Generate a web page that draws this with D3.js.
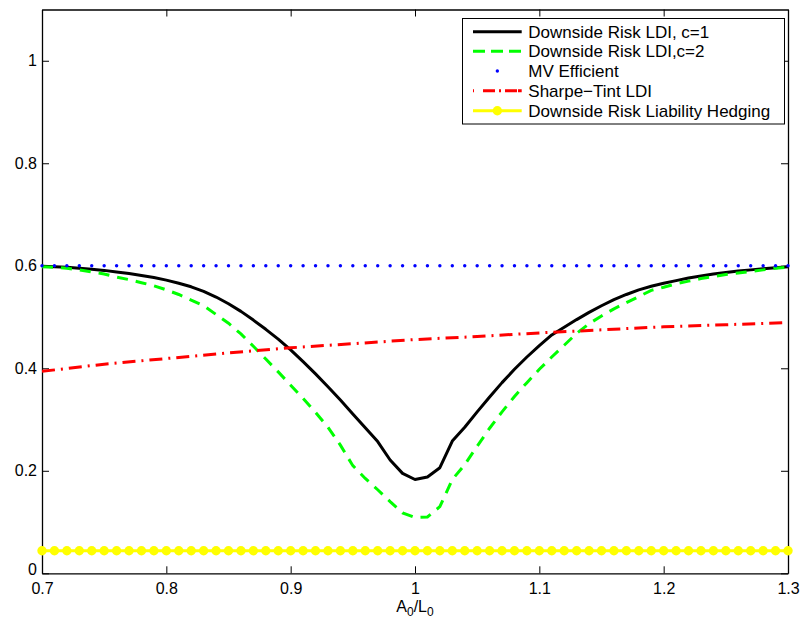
<!DOCTYPE html>
<html><head><meta charset="utf-8">
<script src="https://cdn.jsdelivr.net/npm/d3@7"></script>
<style>body{margin:0;background:#fff} svg{display:block} text{font-family:"Liberation Sans",Arial,Helvetica,sans-serif}</style>
</head><body><svg id="c" width="801" height="621"></svg>
<script>
const xValues = [0.70,0.71,0.72,0.73,0.74,0.75,0.76,0.77,0.78,0.79,0.80,0.81,0.82,0.83,0.84,0.85,0.86,0.87,0.88,0.89,0.90,0.91,0.92,0.93,0.94,0.95,0.96,0.97,0.98,0.99,1.00,1.01,1.02,1.03,1.04,1.05,1.06,1.07,1.08,1.09,1.10,1.11,1.12,1.13,1.14,1.15,1.16,1.17,1.18,1.19,1.20,1.21,1.22,1.23,1.24,1.25,1.26,1.27,1.28,1.29,1.30];
const downsideC1 = [0.599,0.598,0.597,0.595,0.593,0.591,0.588,0.585,0.581,0.577,0.572,0.566,0.559,0.550,0.539,0.526,0.511,0.494,0.476,0.457,0.436,0.413,0.389,0.364,0.338,0.311,0.284,0.257,0.221,0.195,0.183,0.188,0.206,0.258,0.285,0.315,0.344,0.372,0.398,0.422,0.444,0.465,0.480,0.495,0.509,0.522,0.534,0.544,0.553,0.560,0.566,0.571,0.576,0.580,0.584,0.587,0.590,0.592,0.594,0.596,0.598];
const downsideC2 = [0.598,0.597,0.595,0.592,0.588,0.584,0.578,0.573,0.567,0.561,0.553,0.544,0.533,0.522,0.505,0.488,0.467,0.443,0.418,0.393,0.367,0.341,0.314,0.285,0.250,0.210,0.185,0.163,0.140,0.118,0.109,0.110,0.130,0.183,0.212,0.248,0.283,0.315,0.345,0.372,0.398,0.422,0.445,0.468,0.487,0.502,0.516,0.528,0.540,0.552,0.558,0.565,0.570,0.575,0.579,0.583,0.586,0.589,0.592,0.595,0.597];
const mvEfficient = [0.6,0.6,0.6,0.6,0.6,0.6,0.6,0.6,0.6,0.6,0.6,0.6,0.6,0.6,0.6,0.6,0.6,0.6,0.6,0.6,0.6,0.6,0.6,0.6,0.6,0.6,0.6,0.6,0.6,0.6,0.6,0.6,0.6,0.6,0.6,0.6,0.6,0.6,0.6,0.6,0.6,0.6,0.6,0.6,0.6,0.6,0.6,0.6,0.6,0.6,0.6,0.6,0.6,0.6,0.6,0.6,0.6,0.6,0.6,0.6,0.6];
const sharpeX = [0.70,0.75,0.80,0.85,0.90,0.95,1.00,1.05,1.10,1.15,1.20,1.25,1.30];
const sharpeTint = [0.394,0.408,0.419,0.430,0.440,0.448,0.456,0.462,0.469,0.475,0.481,0.485,0.489];
const liabilityHedging = [0.044,0.044,0.044,0.044,0.044,0.044,0.044,0.044,0.044,0.044,0.044,0.044,0.044,0.044,0.044,0.044,0.044,0.044,0.044,0.044,0.044,0.044,0.044,0.044,0.044,0.044,0.044,0.044,0.044,0.044,0.044,0.044,0.044,0.044,0.044,0.044,0.044,0.044,0.044,0.044,0.044,0.044,0.044,0.044,0.044,0.044,0.044,0.044,0.044,0.044,0.044,0.044,0.044,0.044,0.044,0.044,0.044,0.044,0.044,0.044,0.044];
const xTicks = [0.7,0.8,0.9,1.0,1.1,1.2,1.3];
const xTickLabels = ["0.7","0.8","0.9","1","1.1","1.2","1.3"];
const yTicks = [0,0.2,0.4,0.6,0.8,1.0];
const yTickLabels = ["0","0.2","0.4","0.6","0.8","1"];
const seriesNames = ["Downside Risk LDI, c=1","Downside Risk LDI,c=2","MV Efficient","Sharpe\u2212Tint LDI","Downside Risk Liability Hedging"];

const L = 42, R = 788, T = 9.5, B = 573.3;
const svg = d3.select("#c");
const x = d3.scaleLinear().domain([0.7,1.3]).range([L,R]);
const y = d3.scaleLinear().domain([0,1.1]).range([B,T]);
const fs = 16;

// axes
const xb = svg.append("g").attr("transform",`translate(0,${B})`)
  .call(d3.axisBottom(x).tickValues(xTicks).tickFormat((d,i)=>xTickLabels[i]).tickSizeInner(-7).tickSizeOuter(0).tickPadding(9));
const xt = svg.append("g").attr("transform",`translate(0,${T})`)
  .call(d3.axisTop(x).tickValues(xTicks).tickFormat("").tickSizeInner(-7).tickSizeOuter(0));
const yl = svg.append("g").attr("transform",`translate(${L},0)`)
  .call(d3.axisLeft(y).tickValues(yTicks).tickFormat((d,i)=>yTickLabels[i]).tickSizeInner(-7).tickSizeOuter(0).tickPadding(5));
const yr = svg.append("g").attr("transform",`translate(${R},0)`)
  .call(d3.axisRight(y).tickValues(yTicks).tickFormat("").tickSizeInner(-7).tickSizeOuter(0));
[xb,xt,yl,yr].forEach(g=>{
  g.selectAll("path.domain").attr("stroke","#000").attr("stroke-width",1.3);
  g.selectAll(".tick line").attr("stroke","#000").attr("stroke-width",1);
  g.selectAll("text").attr("font-size",fs).attr("fill","#000").attr("font-family",'"Liberation Sans",Arial,sans-serif');
});
// lift the "0" label slightly so it does not collide with "0.7"
yl.selectAll(".tick text").filter((d,i)=>i===0).attr("dy","0.1em");

// x label
const xl = svg.append("text").attr("x",415).attr("y",612).attr("text-anchor","middle").attr("font-size",fs).attr("fill","#000");
xl.append("tspan").text("A");
xl.append("tspan").attr("font-size",12).attr("dy",4).text("0");
xl.append("tspan").attr("dy",-4).text("/L");
xl.append("tspan").attr("font-size",12).attr("dy",4).text("0");

const line = d3.line().x(d=>x(d[0])).y(d=>y(d[1]));
const zipped = (xs,ys)=>xs.map((v,i)=>[v,ys[i]]);

svg.append("path").datum(zipped(xValues,downsideC1)).attr("d",line)
  .attr("fill","none").attr("stroke","#000").attr("stroke-width",3).attr("stroke-linejoin","round");
svg.append("path").datum(zipped(xValues,downsideC2)).attr("d",line)
  .attr("fill","none").attr("stroke","#00ff00").attr("stroke-width",3).attr("stroke-dasharray","11,8");
svg.append("g").selectAll("circle").data(zipped(xValues,mvEfficient)).join("circle")
  .attr("cx",d=>x(d[0])).attr("cy",d=>y(d[1])).attr("r",1.7).attr("fill","#0000ff");
svg.append("path").datum(zipped(sharpeX,sharpeTint)).attr("d",line)
  .attr("fill","none").attr("stroke","#ff0000").attr("stroke-width",3).attr("stroke-dasharray","13,6,2,6");
svg.append("path").datum(zipped(xValues,liabilityHedging)).attr("d",line)
  .attr("fill","none").attr("stroke","#ffff00").attr("stroke-width",3);
svg.append("g").selectAll("circle").data(zipped(xValues,liabilityHedging)).join("circle")
  .attr("cx",d=>x(d[0])).attr("cy",d=>y(d[1])).attr("r",4.7).attr("fill","#ffff00");

// legend
const lg = svg.append("g");
lg.append("rect").attr("x",462.5).attr("y",18.5).attr("width",322).attr("height",105.5)
  .attr("fill","#fff").attr("stroke","#000").attr("stroke-width",1);
const rowY = [31.7,51.2,71,90.7,110.7];
const lx0 = 473, lx1 = 521.7, tx = 528.3;
lg.append("line").attr("x1",lx0).attr("x2",lx1).attr("y1",rowY[0]).attr("y2",rowY[0]).attr("stroke","#000").attr("stroke-width",3);
lg.append("line").attr("x1",lx0).attr("x2",lx1).attr("y1",rowY[1]).attr("y2",rowY[1]).attr("stroke","#00ff00").attr("stroke-width",3).attr("stroke-dasharray","12,6");
lg.append("circle").attr("cx",(lx0+lx1)/2).attr("cy",rowY[2]).attr("r",1.7).attr("fill","#0000ff");
lg.append("line").attr("x1",lx0).attr("x2",lx1).attr("y1",rowY[3]).attr("y2",rowY[3]).attr("stroke","#ff0000").attr("stroke-width",3).attr("stroke-dasharray","1,9,12,4,2,4,12");
lg.append("line").attr("x1",lx0).attr("x2",lx1).attr("y1",rowY[4]).attr("y2",rowY[4]).attr("stroke","#ffff00").attr("stroke-width",3);
lg.append("circle").attr("cx",(lx0+lx1)/2).attr("cy",rowY[4]).attr("r",4.7).attr("fill","#ffff00");
seriesNames.forEach((n,i)=>{
  lg.append("text").attr("x",tx).attr("y",rowY[i]).attr("dy","0.35em").attr("font-size",17).attr("fill","#000").text(n);
});
</script></body></html>
